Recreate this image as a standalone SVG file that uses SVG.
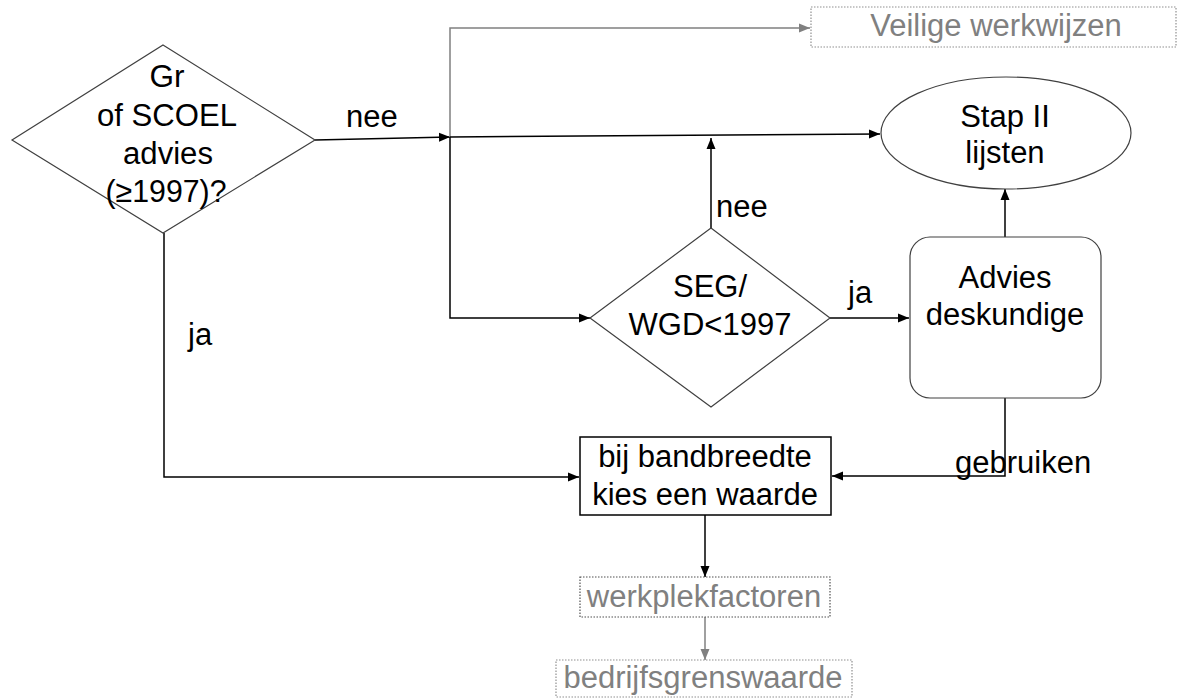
<svg xmlns="http://www.w3.org/2000/svg" width="1183" height="698" viewBox="0 0 1183 698">
  <style>
    text { font-family: "Liberation Sans", Arial, sans-serif; font-size: 31px; fill: #000; }
    .c { text-anchor: middle; }
    .g { fill: #808080; }
    .shape { fill: #fff; stroke: #404040; stroke-width: 1.2; }
    .box { fill: #fff; stroke: #000; stroke-width: 1.5; }
    .dot { fill: #fff; stroke: #909090; stroke-width: 1.2; stroke-dasharray: 1.5 1.5; }
    .ln { fill: none; stroke: #000; stroke-width: 1.5; }
    .gl { fill: none; stroke: #808080; stroke-width: 1.5; }
  </style>
  <defs>
    <marker id="ab" markerUnits="userSpaceOnUse" markerWidth="12" markerHeight="10" refX="11" refY="5" orient="auto">
      <path d="M0,0.5 L11,5 L0,9.5 z" fill="#000"/>
    </marker>
    <marker id="ag" markerUnits="userSpaceOnUse" markerWidth="12" markerHeight="10" refX="11" refY="5" orient="auto">
      <path d="M0,0.5 L11,5 L0,9.5 z" fill="#808080"/>
    </marker>
  </defs>

  <g id="connectors">
    <line class="ln" x1="315" y1="140" x2="450" y2="137" marker-end="url(#ab)"/>
    <polyline class="ln" points="450,137 450,318 590,318" marker-end="url(#ab)"/>
    <polyline class="gl" points="450,137 450,28 810,28" marker-end="url(#ag)"/>
    <line class="ln" x1="450" y1="137" x2="880" y2="134" marker-end="url(#ab)"/>
    <line class="ln" x1="711" y1="228" x2="711" y2="138" marker-end="url(#ab)"/>
    <line class="ln" x1="830" y1="318" x2="909" y2="318" marker-end="url(#ab)"/>
    <line class="ln" x1="1005" y1="237" x2="1005" y2="189" marker-end="url(#ab)"/>
    <polyline class="ln" points="164,233 164,477 579,477" marker-end="url(#ab)"/>
    <polyline class="ln" points="1005,398 1005,476 832,476" marker-end="url(#ab)"/>
    <line class="ln" x1="705" y1="515" x2="705" y2="577" marker-end="url(#ab)"/>
    <line class="gl" x1="705" y1="617" x2="705" y2="660" marker-end="url(#ag)"/>
    <text x="346" y="127">nee</text>
    <text x="716" y="217">nee</text>
    <text x="848" y="303">ja</text>
    <text x="188" y="345">ja</text>
    <text x="955" y="473">gebruiken</text>
  </g>

  <g id="node-gr-scoel">
    <polygon class="shape" points="163,45 315,140 163,233 12,140"/>
    <text class="c" x="167" y="87" font-size="25" textLength="35" lengthAdjust="spacingAndGlyphs">Gr</text>
    <text class="c" x="167" y="126" font-size="25" textLength="140" lengthAdjust="spacingAndGlyphs">of SCOEL</text>
    <text class="c" x="168" y="164" font-size="25" textLength="90" lengthAdjust="spacingAndGlyphs">advies</text>
    <text class="c" x="166" y="202" font-size="25" textLength="121" lengthAdjust="spacingAndGlyphs">(≥1997)?</text>
  </g>

  <g id="node-veilige">
    <rect class="dot" x="811" y="7" width="365" height="40"/>
    <text class="c g" x="996" y="36">Veilige werkwijzen</text>
  </g>

  <g id="node-stap2">
    <ellipse class="shape" cx="1006" cy="133" rx="125" ry="56"/>
    <text class="c" x="1005" y="127">Stap II</text>
    <text class="c" x="1005" y="163">lijsten</text>
  </g>

  <g id="node-seg">
    <polygon class="shape" points="711,228 830,318 711,407 590,318"/>
    <text class="c" x="710" y="297">SEG/</text>
    <text class="c" x="710" y="335">WGD&lt;1997</text>
  </g>

  <g id="node-advies">
    <rect class="shape" x="910" y="237" width="191" height="161" rx="20" ry="20"/>
    <text class="c" x="1005" y="288">Advies</text>
    <text class="c" x="1005" y="325">deskundige</text>
  </g>

  <g id="node-bandbreedte">
    <rect class="box" x="580" y="437" width="251" height="78"/>
    <text class="c" x="705" y="467">bij bandbreedte</text>
    <text class="c" x="705" y="505">kies een waarde</text>
  </g>

  <g id="node-werkplek">
    <rect class="dot" x="580" y="577" width="250" height="40" style="stroke:#505050"/>
    <text class="c g" x="704" y="607">werkplekfactoren</text>
  </g>

  <g id="node-bedrijfs">
    <rect class="dot" x="556" y="660" width="296" height="37"/>
    <text class="c g" x="703" y="688">bedrijfsgrenswaarde</text>
  </g>
</svg>
